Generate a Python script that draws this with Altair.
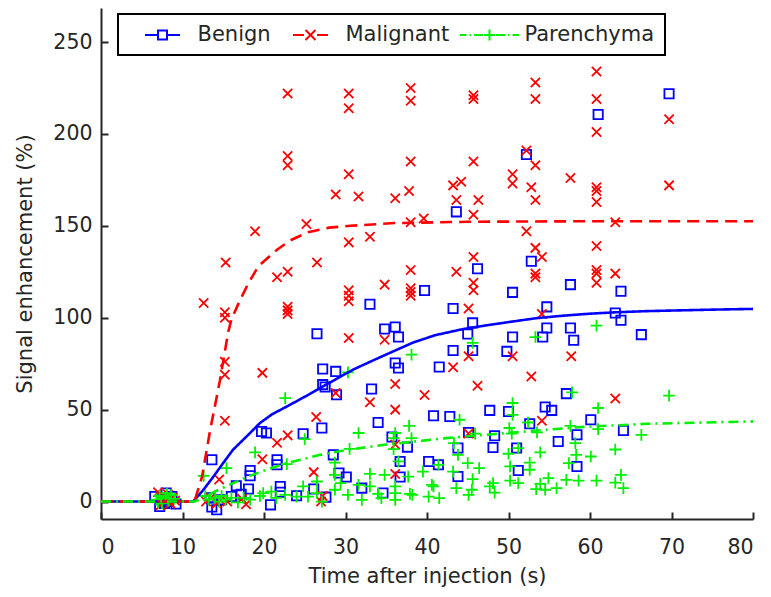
import altair as alt
import pandas as pd

series_names = ["Benign", "Malignant", "Parenchyma"]
series_colors = ["#0000ff", "#ff0000", "#00f000"]
x_ticks = [0, 10, 20, 30, 40, 50, 60, 70, 80]
y_ticks = [0, 50, 100, 150, 200, 250]

# ---- scatter: Benign (time s, signal enhancement %)
benign_t = [6.6, 7.2, 7.5, 7.8, 8.0, 8.3, 8.7, 9.2,
            13.4, 13.6, 13.6, 14.2, 14.8, 16.0, 16.6, 17.2, 18.1, 18.3, 18.3, 19.7, 20.3, 20.8, 21.6, 21.6, 22.0, 22.0, 24.0, 24.8,
            26.1, 26.5, 27.1, 27.2, 27.2, 27.5, 27.6, 28.5, 28.8, 28.9,
            29.2, 30.1, 32.0, 33.0, 33.2, 34.0, 34.6, 34.8, 35.7, 36.1,
            36.1, 36.5, 36.5, 36.7, 36.7, 37.6, 39.7, 40.2, 40.8, 41.4,
            41.5, 42.8, 43.2, 43.2, 43.6, 43.8, 43.8, 45.0, 45.1, 45.6,
            45.6, 46.2, 47.7, 48.1, 48.3, 49.8, 50.0, 50.5, 50.5, 51.0,
            51.2, 52.2, 52.6, 52.8, 54.2, 54.5, 54.7, 54.7, 55.3, 56.1,
            57.1, 57.6, 57.6, 58.0, 58.4, 58.4, 60.1, 61.0, 63.1, 63.8,
            63.8, 64.1, 66.3, 69.7]
benign_se = [2.7, -2.7, 1.0, -1.0, 4.6, 0.0, 2.7, -1.3,
             2.0, -3.0, 22.7, -4.5, 1.0, 2.7, 8.6, 4.0, 6.8, 14.0, 16.9, 38.1, 37.3, -1.8, 22.7, 20.0, 8.2, 5.1, 3.1, 36.9,
             6.8, 91.3, 40.0, 72.1, 63.6, 62.3, 2.4, 25.4, 70.8, 58.1,
             15.5, 13.3, 7.3, 107.3, 61.2, 43.0, 4.6, 93.9, 35.1, 95.0,
             75.4, 89.5, 72.7, 21.8, 13.3, 29.6, 114.8, 21.8, 46.7, 20.0,
             73.2, 46.3, 105.0, 82.2, 157.6, 29.1, 13.6, 91.2, 37.6, 97.2,
             82.2, 126.6, 49.6, 29.4, 35.8, 81.7, 49.0, 113.8, 89.5, 29.1,
             16.9, 188.8, 42.3, 130.7, 89.5, 51.4, 105.9, 94.4, 49.6, 32.7,
             58.7, 118.0, 94.4, 87.7, 36.3, 19.1, 44.5, 210.6, 102.6, 114.4,
             98.6, 38.7, 90.8, 221.9]

# ---- scatter: Malignant
malignant_t = [7.0, 7.3, 7.6, 7.9, 8.2, 8.5, 8.8, 9.1, 12.9, 13.5, 14.2, 14.6, 15.5, 17.3, 17.8,
               12.6, 14.5, 15.2, 15.2, 15.2, 15.2, 15.2, 15.3, 18.9, 19.8, 19.8, 21.6, 21.6,
               22.9, 22.9, 22.9, 22.9, 22.9, 22.9, 22.9, 22.9,
               25.2, 26.1, 26.4, 26.5, 27.0, 27.2, 28.8, 28.8,
               30.4, 30.4, 30.4, 30.4, 30.4, 30.4, 30.4, 30.4,
               31.6, 33.0, 33.0, 34.8, 34.8,
               36.1, 36.1, 36.1, 36.1, 36.1, 37.8,
               38.0, 38.0, 38.0, 38.0, 38.0, 38.0, 38.0, 38.0,
               39.6, 39.7,
               43.2, 43.2, 43.6, 43.6, 44.2,
               45.1, 45.1, 45.1,
               45.7, 45.7, 45.7, 45.7, 45.7, 45.7, 45.7,
               46.2, 46.3,
               50.5, 50.5, 50.5,
               52.2, 52.2, 52.8, 52.8,
               53.3, 53.3, 53.3, 53.3, 53.3, 53.3, 53.3,
               54.1, 54.1, 54.1,
               57.6, 57.7,
               60.8, 60.8, 60.8, 60.8, 60.8, 60.8, 60.8, 60.8, 60.8, 60.8,
               63.1, 63.1, 63.1,
               69.7, 69.7]
malignant_se = [5, -2, 3, 0, 4, -1, 2, 0.5, 0, 2, -1, 1, 0, 1.5, -1.5,
                108, 12, 103, 100, 76, 69, 44, 130, 147, 70, 23, 32, 122,
                36, 125, 106, 104, 102, 222, 188, 183,
                151, 16, 46, 130, 0, 3, 167, 59,
                222, 214, 178, 141, 115, 112, 109, 89,
                166, 144, 54, 118, 88,
                165, 64, 50, 31, 15, 169,
                225, 218, 185, 152, 126, 116, 114, 112,
                154, 58,
                172, 73, 164, 125, 174,
                105, 79, 37,
                221, 219, 185, 156, 133, 119, 115,
                63, 164,
                178, 173, 79,
                191, 147, 171, 68,
                228, 219, 183, 164, 138, 124, 122,
                133, 102, 44,
                176, 79,
                234, 219, 201, 171, 169, 163, 139, 126, 124, 119,
                152, 124, 56,
                208, 172]

# ---- scatter: Parenchyma
parenchyma_t = [6.8, 7.0, 7.2, 7.5, 7.9, 8.1, 8.3, 8.6, 9.0,
                12.6, 12.8, 13.2, 14.0, 14.5, 14.8, 15.3, 15.4, 16.0, 16.8, 17.5, 18.3, 18.9, 19.5, 19.9, 20.9, 21.5,
                22.6, 22.6, 22.8, 24.0, 24.8, 25.0, 25.4, 26.5, 26.5, 27.1,
                28.7, 28.7, 28.7, 29.4, 30.3, 30.3, 30.5, 31.6, 31.6, 32.0,
                33.0, 33.0, 34.0, 34.4, 34.8, 35.9, 35.9, 36.1, 36.1, 36.1, 36.1, 36.5,
                37.7, 37.8, 37.9, 38.1, 38.1, 38.2, 39.5, 40.2, 40.6, 40.8, 41.4, 41.5,
                43.2, 43.3, 43.6, 43.8, 44.0, 45.0, 45.1, 45.5, 45.6, 45.6, 45.9, 46.4,
                47.7, 48.1, 48.3, 50.0, 50.1, 50.2, 50.2, 50.4, 50.5, 50.5, 51.2, 51.2,
                52.4, 52.6, 52.6, 53.3, 53.4, 53.5, 53.9, 53.9, 54.5, 54.9, 55.9,
                57.1, 57.4, 57.6, 57.8, 58.2, 58.3, 58.6,
                60.1, 60.8, 60.8, 61.0, 61.0, 63.1, 63.1, 63.8, 64.1, 66.3, 69.7]
parenchyma_se = [1, -0.5, 3, -1, 2, 4.5, 0.5, 3.5, 1.5,
                 14, 3, 1, 2, 0, 3, 1, 18.2, 2, -0.5, 2, 1, 26.7, 3, 4.6, 5.4, 2,
                 56.3, 3.6, 20.4, 2.7, 8.2, 34, 2.7, 10.9, 4.6, 0,
                 21.2, 14.5, 6.4, 10, 70.3, 3.6, 28.7, 37.3, 9.1, 0.9,
                 15.1, 8.2, 4.2, 1.9, 14.5, 34.5, 28.5, 37.3, 8.2, 4.6, 0.9, 21.8,
                 13.6, 41.2, 4.2, 79.9, 34.5, 3.6, 16.3, 2.7, 9.1, 8.2, 20, 1.9,
                 16.3, 31.8, 7.3, 25.4, 44.5, 20.9, 3.6, 6.4, 12.2, 86.3, 36.9, 18.2,
                 8.2, 10, 4.9, 26, 40, 19.1, 11.4, 36.9, 53.6, 47.2, 10, 29.1,
                 43, 21.2, 17.3, 89.5, 6.8, 37.6, 26.7, 9.6, 6.4, 12.7, 7.3,
                 11.8, 20.9, 41.2, 59.4, 31.8, 25.4, 11.4,
                 24.5, 95.7, 11.4, 50.9, 39.4, 28.3, 10.3, 14.5, 7.3, 36.3, 57.6]

# ---- fitted curves
fit_benign_t = [0, 11.3, 11.7, 12.5, 13.8, 15.0, 16.2, 18.0, 19.5, 21.0, 22.8, 25.0, 26.9, 29.0, 30.9,
                33.0, 35.5, 38.3, 41.0, 44.5, 47.5, 50.6, 53.5, 56.7, 60.0, 62.9, 67.0, 71.0, 75.0, 80.0]
fit_benign = [0, 0, 2, 6, 13.6, 21, 28.2, 36, 42.7, 47.5, 51.7, 57, 61.8, 67, 71.7,
              76, 81, 86.5, 90.5, 93.9, 96, 98, 99.8, 101.1, 102.2, 102.9, 103.6, 104, 104.4, 104.8]
fit_malignant_t = [0, 11.0, 11.5, 12.4, 13.4, 14.6, 15.6, 16.0, 17.0, 18.0, 19.3, 21.6, 23.2, 25.4, 28.0,
                   30.6, 36.0, 45.0, 60.0, 80.0]
fit_malignant = [0, 0, 0.5, 13.6, 39, 66, 92, 99, 109, 118, 128, 137, 142, 146.5, 149,
                 150, 151.5, 152.2, 152.5, 152.5]
fit_parenchyma_t = [0, 11.5, 12.5, 14.0, 16.2, 18.0, 20.3, 22.8, 26.9, 30.3, 35.0, 42.4, 50.6, 58.8, 67.0, 80.0]
fit_parenchyma = [0, 0, 2, 5.5, 10, 13.5, 17.3, 20.9, 25.4, 28.2, 31, 34.5, 37.6, 40.5, 42.3, 43.6]

points = pd.concat([
    pd.DataFrame({"series": "Benign", "t": benign_t, "se": benign_se}),
    pd.DataFrame({"series": "Malignant", "t": malignant_t, "se": malignant_se}),
    pd.DataFrame({"series": "Parenchyma", "t": parenchyma_t, "se": parenchyma_se}),
], ignore_index=True)

fits = pd.concat([
    pd.DataFrame({"series": "Benign", "t": fit_benign_t, "se": fit_benign}),
    pd.DataFrame({"series": "Malignant", "t": fit_malignant_t, "se": fit_malignant}),
    pd.DataFrame({"series": "Parenchyma", "t": fit_parenchyma_t, "se": fit_parenchyma}),
], ignore_index=True)

TXT = "#262626"
FONT = "DejaVu Sans"

x_scale = alt.Scale(domain=[0, 80], nice=False, zero=False)
y_scale = alt.Scale(domain=[-9.5, 268.5], nice=False, zero=False)
color_scale = alt.Scale(domain=series_names, range=series_colors)
# shape / dash scales take their (alphabetical) domain from the data, so their
# legends do not merge into the colour legend
shape_scale = alt.Scale(range=[
    "M-0.95,-0.95H0.95V0.95H-0.95Z",
    "M-0.95,-0.95L0.95,0.95M-0.95,0.95L0.95,-0.95",
    "M-1.2,0H1.2M0,-1.2V1.2",
])
dash_scale = alt.Scale(range=[[1, 0], [12, 7], [10, 5, 2, 5]])

x_axis = alt.Axis(values=x_ticks, title="Time after injection (s)", tickSize=alt.ExprRef(expr="-7"),
                  labelPadding=25, titleY=63, titleBaseline="alphabetic")
y_axis = alt.Axis(values=y_ticks, title="Signal enhancement (%)", tickSize=alt.ExprRef(expr="-7"),
                  labelPadding=16, titleX=-70, titleBaseline="alphabetic")

sym_b = "M-1.75,0H-0.45M0.45,0H1.75M-0.45,-0.45H0.45V0.45H-0.45Z"
sym_m = "M-1.75,0H-0.65M0.65,0H1.75M-0.5,-0.5L0.5,0.5M-0.5,0.5L0.5,-0.5"
sym_p = ("M-2.95,0H-2.3M-2.0,0H-1.85M-1.55,0H-0.65M0.65,0H1.55M1.85,0H2.0M2.3,0H2.95"
         "M-0.55,0H0.55M0,-0.55V0.55")
shape_expr = (f"datum.value === 'Benign' ? '{sym_b}' : "
              f"(datum.value === 'Malignant' ? '{sym_m}' : '{sym_p}')")

legend = alt.Legend(
    title=None, orient="none", legendX=17, legendY=6, direction="horizontal",
    symbolType=alt.ExprRef(expr=shape_expr),
    symbolSize=400, symbolStrokeWidth=2, symbolOffset=23.5,
    labelFont=FONT, labelFontSize=21, labelColor=TXT, labelOffset=24,
    columnPadding=5, padding=10, strokeColor="black", fillColor="white",
)

scatter = alt.Chart(points).mark_point(filled=False, size=95, strokeWidth=1.8, opacity=1).encode(
    x=alt.X("t:Q", scale=x_scale, axis=x_axis),
    y=alt.Y("se:Q", scale=y_scale, axis=y_axis),
    color=alt.Color("series:N", scale=color_scale, legend=legend),
    shape=alt.Shape("series:N", scale=shape_scale, legend=None),
)

lines = alt.Chart(fits).mark_line(strokeWidth=2.6).encode(
    x=alt.X("t:Q", scale=x_scale),
    y=alt.Y("se:Q", scale=y_scale),
    color=alt.Color("series:N", scale=color_scale, legend=None),
    strokeDash=alt.StrokeDash("series:N", scale=dash_scale, legend=None),
)

chart = alt.layer(scatter, lines).properties(
    width=652, height=511,
    autosize=alt.AutoSizeParams(type="none"),
    padding={"left": 93, "top": 0, "right": 10, "bottom": 68},
).configure_view(stroke=None).configure_axis(
    domainColor=TXT, domainWidth=2, tickColor=TXT, tickWidth=2,
    labelColor=TXT, titleColor=TXT, labelFont=FONT, titleFont=FONT,
    labelFontSize=20.5, titleFontSize=21, titleFontWeight="normal", grid=False,
).configure_legend(strokeWidth=2)

chart.save("out.html", embed_options={"renderer": "svg", "actions": False})
